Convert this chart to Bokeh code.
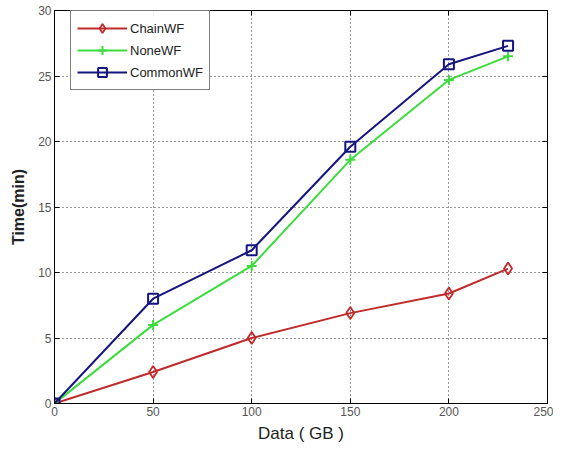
from bokeh.plotting import figure
from bokeh.models import FixedTicker, LinearAxis, Range1d, Legend, LegendItem, CustomJSTickFormatter
from bokeh.embed import file_html
from bokeh.resources import INLINE

data_gb = [0, 50, 100, 150, 200, 230]
chain_wf = [0, 2.4, 5.0, 6.9, 8.4, 10.3]
none_wf = [0, 6.0, 10.5, 18.6, 24.7, 26.5]
common_wf = [0, 8.0, 11.7, 19.6, 25.9, 27.3]
x_ticks = [0, 50, 100, 150, 200, 250]
y_ticks = [0, 5, 10, 15, 20, 25, 30]

FONT = "Liberation Sans"

p = figure(width=553, height=446, output_backend="svg", toolbar_location=None,
           x_range=Range1d(0, 250), y_range=Range1d(0, 30),
           min_border_left=54, min_border_right=6, min_border_top=10, min_border_bottom=43)

p.outline_line_color = "black"
p.outline_line_width = 1
p.background_fill_color = "white"
p.border_fill_color = "white"

for ax in (p.xaxis[0], p.yaxis[0]):
    ax.major_tick_in = 5
    ax.major_tick_out = 0
    ax.minor_tick_line_color = None
    ax.axis_line_color = "black"
    ax.major_label_text_font = FONT
    ax.major_label_text_font_size = "12px"
    ax.major_label_text_color = "#555555"

p.xaxis[0].ticker = FixedTicker(ticks=x_ticks)
p.yaxis[0].ticker = FixedTicker(ticks=y_ticks)
p.xaxis[0].axis_label = "Data ( GB )"
p.xaxis[0].axis_label_text_font = FONT
p.xaxis[0].axis_label_text_font_size = "17px"
p.xaxis[0].axis_label_text_font_style = "normal"
p.xaxis[0].axis_label_text_color = "#222222"
p.xaxis[0].axis_label_standoff = 5
p.xaxis[0].major_label_standoff = 3
p.yaxis[0].axis_label = "Time(min)"
p.yaxis[0].axis_label_text_font = FONT
p.yaxis[0].axis_label_text_font_size = "16px"
p.yaxis[0].axis_label_text_font_style = "bold"
p.yaxis[0].axis_label_text_color = "#222222"
p.yaxis[0].axis_label_standoff = 8
p.yaxis[0].major_label_standoff = 3

empty_fmt = CustomJSTickFormatter(code="return ''")
top_axis = LinearAxis(ticker=FixedTicker(ticks=x_ticks), formatter=empty_fmt,
                      major_tick_in=5, major_tick_out=0, minor_tick_line_color=None)
right_axis = LinearAxis(ticker=FixedTicker(ticks=y_ticks), formatter=empty_fmt,
                        major_tick_in=5, major_tick_out=0, minor_tick_line_color=None)
p.add_layout(top_axis, "above")
p.add_layout(right_axis, "right")

for g in (p.xgrid[0], p.ygrid[0]):
    g.grid_line_color = "black"
    g.grid_line_dash = "1 3"
    g.grid_line_alpha = 0.8
p.xgrid[0].ticker = FixedTicker(ticks=x_ticks)
p.ygrid[0].ticker = FixedTicker(ticks=y_ticks)

red = "#c02a2a"
green = "#3ddc3d"
navy = "#15157f"

l1 = p.line(data_gb, chain_wf, line_color=red, line_width=2)
m1 = p.scatter(data_gb, chain_wf, marker="diamond", size=12, line_color=red,
               fill_color=None, line_width=1.8)
l2 = p.line(data_gb, none_wf, line_color=green, line_width=2)
m2 = p.scatter(data_gb, none_wf, marker="cross", size=10, line_color=green, line_width=2)
l3 = p.line(data_gb, common_wf, line_color=navy, line_width=2)
m3 = p.scatter(data_gb, common_wf, marker="square", size=10, line_color=navy,
               fill_color=None, line_width=2)

legend = Legend(items=[
    LegendItem(label="ChainWF", renderers=[l1, m1]),
    LegendItem(label="NoneWF", renderers=[l2, m2]),
    LegendItem(label="CommonWF", renderers=[l3, m3]),
], location=(16, 313))
legend.border_line_color = "black"
legend.border_line_width = 1
legend.label_text_font = FONT
legend.label_text_font_size = "13px"
legend.label_text_color = "#222222"
legend.glyph_width = 50
legend.glyph_height = 22
legend.label_height = 22
legend.spacing = 0
legend.padding = 6
legend.margin = 0
legend.label_standoff = 3
p.add_layout(legend)

open("out.html", "w").write(file_html(p, INLINE))
